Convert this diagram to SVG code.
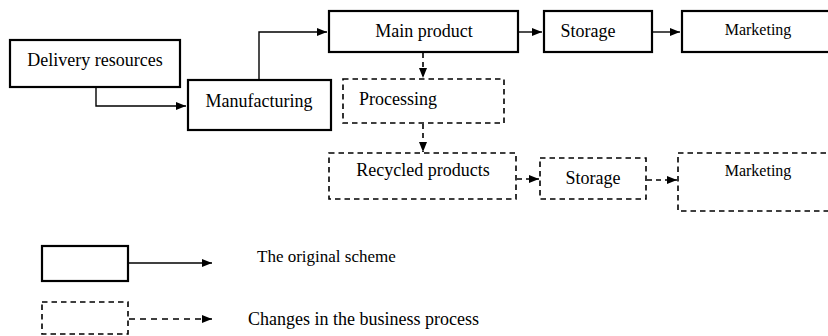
<svg xmlns="http://www.w3.org/2000/svg" width="828" height="336" viewBox="0 0 828 336">
<defs>
<style>
.box{fill:#fff;stroke:#000;stroke-width:2.2}
.dbox{fill:#fff;stroke:#000;stroke-width:1.6;stroke-dasharray:5.5,4}
.t{font-family:"Liberation Serif","Times New Roman",serif;font-size:18px;fill:#000;text-anchor:middle}
.tm{font-size:16px}
.c{fill:none;stroke:#000;stroke-width:1.4}
.dc{fill:none;stroke:#000;stroke-width:1.6;stroke-dasharray:5,4}
</style>
<marker id="ah" markerUnits="userSpaceOnUse" markerWidth="11" markerHeight="9" refX="10" refY="4" orient="auto">
<path d="M0,0 L10,4 L0,8 z" fill="#000"/>
</marker>
</defs>
<rect width="828" height="336" fill="#fff"/>
<g id="connectors">
<polyline class="c" points="96,88 96,106 186,106" marker-end="url(#ah)"/>
<polyline class="c" points="259,79 259,32 327,32" marker-end="url(#ah)"/>
<line class="c" x1="519" y1="32" x2="542" y2="32" marker-end="url(#ah)"/>
<line class="c" x1="653" y1="32" x2="680" y2="32" marker-end="url(#ah)"/>
<line class="dc" x1="423" y1="53" x2="423" y2="78" marker-end="url(#ah)"/>
<line class="dc" x1="423" y1="124" x2="423" y2="152" marker-end="url(#ah)"/>
<line class="dc" x1="517" y1="179" x2="539" y2="179" marker-end="url(#ah)"/>
<line class="dc" x1="647" y1="180" x2="677" y2="180" marker-end="url(#ah)"/>
<line class="c" x1="129" y1="263" x2="212" y2="263" marker-end="url(#ah)"/>
<line class="dc" x1="129" y1="319" x2="212" y2="319" marker-end="url(#ah)" style="stroke-dasharray:6,5"/>
</g>
<g id="delivery"><rect class="box" x="10" y="40" width="170" height="47"/><text class="t" x="95" y="66">Delivery resources</text></g>
<g id="manufacturing"><rect class="box" x="188" y="80" width="143" height="50"/><text class="t" x="259" y="107">Manufacturing</text></g>
<g id="main-product"><rect class="box" x="329" y="11" width="189" height="41"/><text class="t" x="424" y="37">Main product</text></g>
<g id="storage"><rect class="box" x="544" y="11" width="108" height="41"/><text class="t" x="588" y="37">Storage</text></g>
<g id="marketing"><rect class="box" x="682" y="11" width="160" height="41"/><text class="t tm" x="758" y="35">Marketing</text></g>
<g id="processing"><rect class="dbox" x="343" y="79" width="161" height="44"/><text class="t" x="398" y="105">Processing</text></g>
<g id="recycled"><rect class="dbox" x="329" y="153" width="187" height="46"/><text class="t" x="423" y="176">Recycled products</text></g>
<g id="storage2"><rect class="dbox" x="540" y="158" width="106" height="41"/><text class="t" x="593" y="184">Storage</text></g>
<g id="marketing2"><rect class="dbox" x="678" y="153" width="170" height="58"/><text class="t tm" x="758" y="176">Marketing</text></g>
<g id="legend-solid"><rect class="box" x="42" y="246" width="86" height="35"/><text class="t" x="257" y="262" style="text-anchor:start;font-size:17px">The original scheme</text></g>
<g id="legend-dashed"><rect class="dbox" x="42" y="302" width="86" height="32"/><text class="t" x="248" y="325" style="text-anchor:start">Changes in the business process</text></g>
</svg>
